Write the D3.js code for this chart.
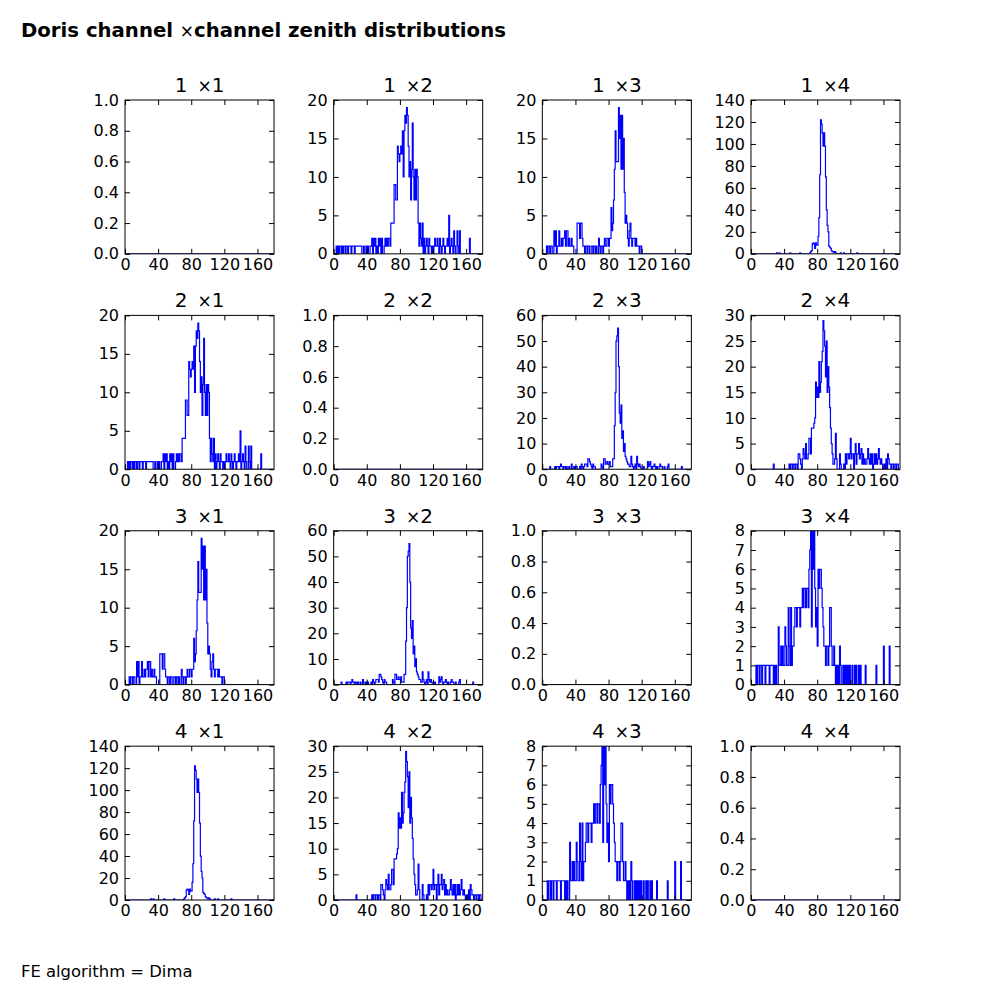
<!DOCTYPE html>
<html><head><meta charset="utf-8">
<script src="https://cdn.jsdelivr.net/npm/d3@7"></script>
<style>
body{margin:0;background:#fff}
svg text{font-family:"DejaVu Sans",sans-serif;fill:#000}
</style></head>
<body><svg id="c" width="1000" height="1000"></svg>
<script>
// ---- data: counts per 1-degree zenith bin, 0..179 ----
const channels = [1, 2, 3, 4];
const xTicks = [0, 40, 80, 120, 160];
const binEdges = d3.range(0, 181, 1);

const h12 = [
0,0,0,1,0,1,0,1,1,0, 1,0,1,1,0,1,1,0,1,1, 1,0,1,1,1,0,1,1,1,1, 1,1,1,1,0,0,1,0,0,1,
0,1,0,0,1,1,2,0,2,1, 2,0,1,0,2,1,2,0,2,0, 0,1,2,1,2,1,2,2,1,4, 4,4,4,9,9,7,7,14,13,12,
13,14,13,16,10,16,18,17,19,18, 14,10,12,7,11,17,10,7,11,7, 11,10,4,1,4,2,1,4,0,2, 0,1,2,1,0,2,1,1,0,1,
0,1,2,1,1,2,1,0,2,1, 0,1,2,1,0,1,1,2,1,5, 0,1,2,1,0,3,1,0,0,3, 1,0,3,0,0,0,0,0,0,0,
0,0,0,0,2,0,0,0,0,0, 0,0,0,0,0,0,0,0,0,0];
const h13 = [
0,0,0,0,0,1,0,1,1,0, 1,1,0,0,3,1,3,0,1,1, 3,1,1,2,1,2,2,3,1,3, 3,1,2,1,1,2,1,1,0,0,
0,0,4,4,4,2,4,4,2,1, 1,0,1,1,0,1,1,0,0,1, 1,0,1,1,0,1,0,0,2,1, 0,1,1,0,1,2,1,1,2,2,
1,2,2,6,3,4,7,11,16,12, 12,12,19,15,18,11,18,11,15,8, 4,5,4,2,1,3,4,2,1,2, 2,2,1,2,1,1,1,0,1,1,
0,0,0,0,0,0,0,0,0,0, 0,0,0,0,0,0,0,0,0,0, 0,0,0,0,0,0,0,0,0,0, 0,0,0,0,0,0,0,0,0,0,
0,0,0,0,0,0,0,0,0,0, 0,0,0,0,0,0,0,0,0,0];
const h14 = [
0,0,0,0,0,0,0,0,0,0, 0,0,0,0,0,0,0,0,0,0, 0,0,0,0,0,0,0,0,0,0, 0,1,0,0,1,0,0,0,0,0,
0,0,0,0,0,0,0,1,0,0, 0,0,0,0,0,0,0,0,0,1, 0,0,0,0,0,0,0,0,0,0, 0,1,2,3,9,10,9,5,10,8,
8,16,33,72,122,118,110,98,110,98, 70,40,26,20,7,6,5,3,2,2, 1,2,1,0,0,0,0,0,1,0, 0,0,1,0,0,0,0,0,0,0,
0,0,0,0,0,0,0,0,1,0, 0,0,0,0,0,0,0,0,0,0, 0,0,0,0,0,0,0,0,0,0, 0,0,0,0,0,0,0,0,0,0,
0,0,0,0,0,0,0,0,0,0, 0,0,0,0,0,0,0,0,0,0];
const h23 = [
0,0,0,0,0,0,0,0,0,1, 0,0,0,0,0,1,0,1,1,1, 0,1,2,1,1,0,1,1,0,1, 0,0,1,0,0,2,0,0,1,0,
1,1,0,0,0,1,0,2,1,0, 1,2,2,2,1,4,4,3,2,1, 0,2,1,1,0,0,0,0,0,0, 0,2,1,0,4,4,2,2,3,2,
2,3,1,1,1,4,4,17,30,50, 52,55,40,22,18,25,12,15,7,10, 5,4,3,2,2,1,1,5,2,1, 0,1,2,0,5,2,1,2,1,0,
0,0,1,0,0,0,0,3,1,2, 3,1,0,1,1,2,1,0,1,0, 0,1,2,1,1,0,0,1,0,0, 0,1,2,0,0,0,0,0,0,0,
0,0,0,0,0,0,0,0,1,0, 0,0,0,0,0,0,0,0,0,0];
const h24 = [
0,0,0,0,0,0,0,0,0,0, 0,0,0,0,0,0,0,0,0,0, 0,0,0,0,0,0,0,1,0,0, 0,0,0,0,0,0,0,0,0,0,
0,0,0,0,0,0,1,0,1,1, 0,1,1,0,1,1,0,3,3,2, 1,0,2,4,3,2,5,2,2,3, 6,6,3,8,8,8,9,10,17,14,
16,14,21,15,17,21,23,29,27,24, 18,25,15,20,16,12,8,5,3,1, 1,2,7,2,0,0,0,3,1,0, 0,0,1,0,3,1,3,3,2,3,
6,2,3,3,0,3,5,1,3,3, 5,2,3,4,1,3,1,2,1,1, 2,4,2,1,3,1,3,0,1,3, 1,3,1,2,4,2,1,2,1,0,
0,1,0,2,0,3,2,1,1,0, 1,1,0,1,1,0,1,1,0,0];
const h34 = [
0,0,0,0,0,0,1,0,1,1, 0,1,1,0,1,1,1,0,1,1, 1,1,0,1,1,1,1,0,1,0, 1,0,0,3,1,1,2,1,2,1,
1,3,2,1,1,4,2,1,4,1, 2,2,3,4,4,3,4,4,4,3, 4,4,5,4,5,5,4,5,5,4, 6,7,8,3,8,6,8,5,3,4,
2,6,5,6,6,5,4,3,2,2, 1,2,2,1,2,4,4,2,1,1, 2,1,0,1,0,1,0,2,1,0, 0,1,0,1,0,1,0,1,0,1,
0,0,1,0,0,1,0,1,0,0, 1,0,1,0,0,0,0,0,1,0, 0,0,0,0,0,0,0,0,0,0, 0,1,0,0,0,0,0,0,0,0,
2,0,0,0,0,0,0,2,0,0, 0,0,0,0,0,0,0,0,0,0];

// y-axis extents and tick steps per pair
const pairKeys  = ["12", "13", "14", "23", "24", "34"];
const pairData  = [h12, h13, h14, h23, h24, h34];
const pairYMax  = [20, 20, 140, 60, 30, 8];
const pairYStep = [5, 5, 20, 10, 5, 1];

const titleText = "Doris channel ";
const titleText2 = "channel zenith distributions";
const footText = "FE algorithm = Dima";

// ---- layout ----
const svg = d3.select("#c");
const L = 125, R = 900, T = 100, B = 900, ws = 0.4, hs = 0.4;
const pw = (R - L) / (4 + 3 * ws), ph = (B - T) / (4 + 3 * hs);

const tt = svg.append("text").attr("x", 21).attr("y", 37)
  .style("font-size", "19.7px").style("font-weight", "bold");
tt.append("tspan").text(titleText);
tt.append("tspan").style("font-weight", "normal").style("font-size", "17px").text("×");
tt.append("tspan").text(titleText2);

svg.append("text").attr("x", 21).attr("y", 977).style("font-size", "16.4px").text(footText);

const x = d3.scaleLinear().domain([0, 180]).range([0, pw]);

channels.forEach((ci, r) => {
  channels.forEach((cj, c) => {
    const x0 = L + c * pw * (1 + ws), y0 = T + r * ph * (1 + hs);
    const g = svg.append("g").attr("transform", `translate(${x0},${y0})`);
    let vals = null, ymax = 1, ystep = 0.2, fmt = d3.format(".1f");
    if (ci !== cj) {
      const k = pairKeys.indexOf(String(Math.min(ci, cj)) + String(Math.max(ci, cj)));
      vals = pairData[k]; ymax = pairYMax[k]; ystep = pairYStep[k]; fmt = d3.format("d");
    }
    const y = d3.scaleLinear().domain([0, ymax]).range([ph, 0]);
    const yt = d3.range(0, ymax + ystep / 2, ystep);

    const clipId = `clip${r}${c}`;
    g.append("clipPath").attr("id", clipId).append("rect").attr("width", pw).attr("height", ph);

    // step outline
    const pts = [[0, 0]];
    const v = vals || new Array(180).fill(0);
    v.forEach((d, i) => { pts.push([binEdges[i], d]); pts.push([binEdges[i + 1], d]); });
    pts.push([180, 0]);
    g.append("path").attr("clip-path", `url(#${clipId})`)
      .attr("d", d3.line().x(d => x(d[0])).y(d => y(d[1]))(pts))
      .attr("fill", "none").attr("stroke", "#0000ff").attr("stroke-width", 1.2)
      .attr("stroke-linejoin", "miter");

    const ax = (axis, tr) => {
      const a = g.append("g").attr("transform", tr).call(axis);
      a.select(".domain").remove();
      a.selectAll("text").style("font-size", "16px").style("font-family", '"DejaVu Sans",sans-serif');
      a.selectAll("line").attr("stroke", "#000");
      return a;
    };
    ax(d3.axisBottom(x).tickValues(xTicks).tickSizeInner(-5).tickSizeOuter(0).tickPadding(5), `translate(0,${ph})`);
    ax(d3.axisTop(x).tickValues(xTicks).tickSizeInner(-5).tickSizeOuter(0).tickFormat(""), "translate(0,0)");
    ax(d3.axisLeft(y).tickValues(yt).tickFormat(fmt).tickSizeInner(-5).tickSizeOuter(0).tickPadding(6), "translate(0,0)");
    ax(d3.axisRight(y).tickValues(yt).tickSizeInner(-5).tickSizeOuter(0).tickFormat(""), `translate(${pw},0)`);

    g.append("rect").attr("width", pw).attr("height", ph)
      .attr("fill", "none").attr("stroke", "#000").attr("stroke-width", 1);

    const t = g.append("text").attr("x", pw / 2).attr("y", -8).attr("text-anchor", "middle")
      .style("font-size", "20px");
    t.append("tspan").text(ci + "\u2002");
    t.append("tspan").style("font-size", "17px").text("×");
    t.append("tspan").text(cj);
  });
});
</script></body></html>
